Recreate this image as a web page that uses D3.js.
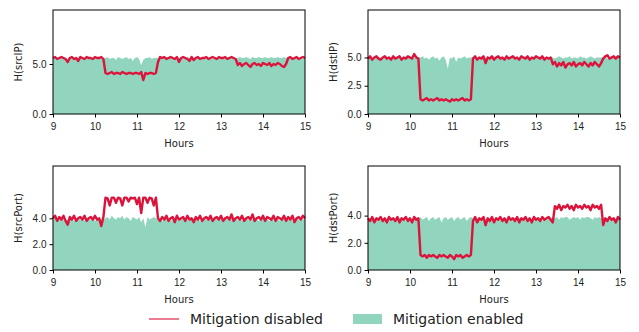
<!DOCTYPE html>
<html>
<head>
<meta charset="utf-8">
<script src="https://cdn.jsdelivr.net/npm/d3@7"></script>
<style>
  body { margin: 0; background: #fff; }
  svg { font-family: "DejaVu Sans", sans-serif; }
</style>
</head>
<body>
<script>
// sampling grid: one value every 0.05 h from 9:00 to 15:00
const hours = d3.range(121).map(i => 9 + i * 0.05);

// H(srcIP)
const srcIP_disabled = [
  5.6,5.7,5.5,5.6,5.7,5.6,5.5,5.2,5.6,5.7, 5.5,5.6,5.3,5.7,5.6,5.5,5.7,5.6,5.6,5.5, 5.7,5.6,5.6,5.7,5.5,
  4.1,4.0,4.1,4.2,4.0,4.1,4.1,4.0,4.2,4.1, 4.0,4.1,4.1,4.0,4.1,4.1,4.0,4.2,3.4,4.1, 4.0,4.1,4.1,4.0,4.1,
  5.2,5.7,5.6,5.7,5.5,5.6,5.7,5.6,5.5,5.7, 5.2,5.6,5.7,5.6,5.5,5.3,5.7,5.4,5.6,5.7,
  5.5,5.6,5.6,5.7,5.5,5.6,5.7,5.6,5.5,5.7, 5.6,5.6,5.7,5.5,5.6,5.7,5.6,5.5,
  4.9,5.1,4.8,5.0,5.1,4.9,4.7,5.0,5.1,4.9, 5.0,4.8,5.1,5.0,4.9,5.1,4.8,5.0,4.9,5.1, 5.0,4.8,4.7,5.0,
  5.6,5.7,5.5,5.6,5.7,5.5,5.6,5.7,5.6
];
const srcIP_enabled = [
  5.6,5.6,5.5,5.6,5.7,5.6,5.6,5.4,5.6,5.6, 5.5,5.6,5.6,5.6,5.5,5.6,5.6,5.6,5.5,5.6, 5.6,5.6,5.6,5.6,5.5,
  5.6,5.7,5.5,5.6,5.6,5.4,5.7,5.6,5.5,5.6, 5.7,5.5,5.6,5.3,5.6,5.7,5.5,4.9,5.4,5.6, 5.6,5.7,5.5,5.6,5.6,
  5.6,5.6,5.5,5.6,5.7,5.6,5.6,5.5,5.6,5.6, 5.6,5.5,5.6,5.6,5.7,5.6,5.5,5.6,5.6,5.6,
  5.6,5.5,5.6,5.7,5.6,5.6,5.5,5.6,5.6,5.6, 5.6,5.5,5.6,5.6,5.7,5.6,5.6,5.5,
  5.6,5.7,5.6,5.6,5.7,5.6,5.5,5.7,5.6,5.6, 5.7,5.6,5.6,5.7,5.6,5.6,5.7,5.6,5.6,5.7, 5.6,5.6,5.7,5.6,
  5.6,5.6,5.5,5.6,5.7,5.6,5.6,5.5,5.6
];

// H(dstIP)
const dstIP_disabled = [
  4.9,5.1,4.8,5.0,5.1,4.9,4.8,5.0,5.1,4.9, 5.0,4.8,5.1,4.9,5.0,5.1,4.8,5.0,4.9,5.1, 5.0,4.9,5.3,5.0,4.9,
  1.3,1.2,1.3,1.4,1.2,1.3,1.2,1.3,1.4,1.2, 1.3,1.2,1.3,1.2,1.1,1.3,1.2,1.3,1.2,1.3, 1.4,1.2,1.3,1.2,1.3,
  4.9,5.1,4.8,5.0,4.9,5.1,4.5,5.0,4.9,5.1, 4.8,5.0,5.1,4.9,5.0,4.8,5.1,4.9,5.0,5.1,
  4.9,5.0,4.8,5.1,5.0,4.9,5.1,4.8,5.0,4.9, 5.1,5.0,4.9,5.1,4.8,5.0,4.9,5.0,
  4.4,4.6,4.2,4.5,4.3,4.6,4.1,4.4,4.5,4.3, 4.6,4.2,4.4,4.5,4.3,4.6,4.4,4.2,4.5,4.3, 4.6,4.4,4.2,4.5,
  4.9,5.1,5.2,4.9,5.0,5.1,4.9,5.1,5.0
];
const dstIP_enabled = [
  5.0,5.0,4.9,5.0,5.1,5.0,5.0,4.9,5.0,5.0, 5.1,5.0,4.9,5.0,5.0,5.0,4.9,5.0,5.1,5.0, 5.0,4.9,5.0,5.0,5.0,
  5.0,5.1,4.9,5.0,4.8,5.0,5.1,4.9,5.0,4.7, 5.0,5.1,4.8,4.0,5.0,4.9,5.1,4.6,5.0,4.9, 5.0,5.1,4.9,5.0,5.0,
  5.0,5.0,4.9,5.0,5.1,5.0,5.0,4.9,5.0,5.0, 5.1,5.0,4.9,5.0,5.0,5.0,4.9,5.0,5.1,5.0,
  5.0,4.9,5.0,5.0,5.0,5.1,5.0,4.9,5.0,5.0, 5.0,4.9,5.0,5.1,5.0,5.0,4.9,5.0,
  5.0,4.9,5.0,5.1,5.0,4.9,5.0,5.0,5.1,4.9, 5.0,5.0,4.9,5.1,5.0,5.0,4.9,5.0,5.1,5.0, 4.9,5.0,5.0,5.0,
  5.0,5.0,4.9,5.0,5.1,5.0,5.0,4.9,5.0
];

// H(srcPort)
const srcPort_disabled = [
  4.0,4.2,3.8,4.1,3.9,4.2,3.8,3.5,4.1,3.9, 4.2,3.8,4.0,4.1,3.9,4.2,3.8,4.0,4.1,3.9, 4.2,3.9,4.0,3.4,4.1,
  5.6,5.55,5.0,5.6,5.6,5.2,5.6,5.55,5.0,5.6, 5.6,5.3,5.6,5.55,5.6,5.1,5.6,4.4,5.6,5.6, 5.2,5.6,5.55,5.0,5.6,
  4.0,3.8,4.1,3.9,4.2,3.8,4.0,4.1,3.7,4.2, 3.9,4.0,4.1,3.8,4.2,3.9,4.0,3.7,4.1,3.9,
  4.2,3.8,4.0,4.1,3.9,4.2,3.8,4.0,4.1,3.9, 4.2,3.8,4.0,4.1,3.9,4.3,3.8,4.0,
  4.1,3.9,4.2,3.8,4.0,4.1,3.9,4.3,3.8,4.0, 4.1,3.9,4.2,3.8,4.1,4.0,3.9,4.2,3.8,4.1, 4.0,3.9,4.2,3.8,
  4.1,3.9,4.2,3.7,4.0,4.1,3.9,4.2,4.0
];
const srcPort_enabled = [
  3.9,4.0,3.8,3.9,4.0,3.9,3.8,3.9,4.0,3.9, 3.8,3.9,4.0,3.9,3.9,3.8,4.0,3.9,3.9,4.0, 3.8,3.9,4.0,3.9,3.9,
  4.0,4.1,3.9,4.2,4.0,3.9,4.1,4.0,4.2,3.9, 4.1,4.0,3.8,4.1,4.0,3.9,4.1,3.7,4.0,3.3, 4.1,3.9,4.0,4.1,4.0,
  3.9,4.0,3.8,3.9,4.0,3.9,3.8,3.9,4.0,3.9, 3.8,3.9,4.0,3.9,3.9,3.8,4.0,3.9,3.9,4.0,
  3.8,3.9,4.0,3.9,3.9,4.0,3.8,3.9,4.0,3.9, 3.9,3.8,4.0,3.9,3.9,4.0,3.8,3.9,
  3.9,4.0,3.8,3.9,4.0,3.9,3.8,3.9,4.0,3.9, 3.8,3.9,4.0,3.9,3.9,3.8,4.0,3.9,3.9,4.0, 3.8,3.9,4.0,3.9,
  3.9,4.0,3.8,3.9,4.0,3.9,3.8,3.9,4.0
];

// H(dstPort)
const dstPort_disabled = [
  3.8,3.6,3.9,3.5,3.8,3.7,3.9,3.6,3.8,3.5, 3.9,3.7,3.8,3.6,3.9,3.5,3.8,3.7,3.9,3.6, 3.8,3.5,3.9,3.7,3.8,
  1.1,1.0,1.1,0.9,1.1,1.0,1.1,1.0,0.9,1.1, 1.0,1.1,1.0,0.9,1.1,1.0,0.8,1.1,1.0,1.1, 0.9,1.0,1.1,1.0,1.1,
  3.6,3.9,3.5,3.8,3.7,3.9,3.3,3.8,3.6,3.9, 3.5,3.8,3.7,3.9,3.6,3.8,3.5,3.9,3.7,3.8,
  3.6,3.9,3.5,3.8,3.7,3.9,3.6,3.8,3.5,3.9, 3.7,3.8,3.6,3.9,3.7,3.8,3.9,3.7,
  3.5,4.7,4.5,4.8,4.4,4.7,4.6,4.8,4.5,4.7, 4.4,4.8,4.6,4.7,4.5,4.8,4.6,4.7,4.4,4.8, 4.6,4.7,4.5,4.8,
  3.3,3.8,3.6,3.9,3.7,3.8,3.5,3.9,3.7
];
const dstPort_enabled = [
  3.8,3.7,3.8,3.8,3.6,3.8,3.7,3.8,3.8,3.7, 3.8,3.6,3.8,3.7,3.8,3.8,3.7,3.8,3.6,3.8, 3.8,3.7,3.8,3.8,3.7,
  3.9,3.7,3.8,3.9,3.6,3.8,3.9,3.7,3.8,3.9, 3.5,3.8,3.9,3.7,3.8,3.9,3.6,3.8,3.9,3.7, 3.8,3.9,3.6,3.8,3.9,
  3.8,3.7,3.8,3.8,3.6,3.8,3.7,3.8,3.8,3.7, 3.8,3.6,3.8,3.7,3.8,3.8,3.7,3.8,3.6,3.8,
  3.8,3.7,3.8,3.8,3.7,3.8,3.6,3.8,3.7,3.8, 3.8,3.7,3.8,3.6,3.8,3.7,3.8,3.8,
  3.9,3.8,3.9,3.7,3.9,3.8,3.9,3.9,3.7,3.8, 3.9,3.8,3.9,3.7,3.9,3.8,3.9,3.9,3.8,3.7, 3.9,3.8,3.9,3.8,
  3.8,3.7,3.8,3.8,3.6,3.8,3.7,3.8,3.8
];

const xTicks = [9, 10, 11, 12, 13, 14, 15];
const panelLabels = ["H(srcIP)", "H(dstIP)", "H(srcPort)", "H(dstPort)"];
const yTicks = [[0, 5], [0, 2.5, 5], [0, 2, 4], [0, 2, 4]];
const yMax = [10.4, 9.2, 8.05, 7.65];
const legendLabels = ["Mitigation disabled", "Mitigation enabled"];

const disabledSeries = [srcIP_disabled, dstIP_disabled, srcPort_disabled, dstPort_disabled];
const enabledSeries = [srcIP_enabled, dstIP_enabled, srcPort_enabled, dstPort_enabled];

const W = 639, H = 332;
const RED = "#dc143c";
const GREEN = "#91d5bf";

// panel placement (left, top) of each axes box
const boxes = [
  { left: 53, top: 10 }, { left: 368, top: 10 },
  { left: 53, top: 166 }, { left: 368, top: 166 }
];
const pw = 252, ph = 104;

const svg = d3.select("body").append("svg")
    .attr("width", W)
    .attr("height", H);

boxes.forEach((b, k) => {
    const g = svg.append("g").attr("transform", `translate(${b.left},${b.top})`);

    const x = d3.scaleLinear().domain([9, 15]).range([0, pw]);
    const y = d3.scaleLinear().domain([0, yMax[k]]).range([ph, 0]);

    const en = hours.map((h, i) => ({ h, v: enabledSeries[k][i] }));
    const dis = hours.map((h, i) => ({ h, v: disabledSeries[k][i] }));

    // 緩和あり: 塗りつぶし
    g.append("path")
        .datum(en)
        .attr("fill", GREEN)
        .attr("d", d3.area()
            .x(d => x(d.h)).y0(y(0)).y1(d => y(d.v)));

    // 緩和なし: 線
    g.append("path")
        .datum(dis)
        .attr("fill", "none")
        .attr("stroke", RED)
        .attr("stroke-width", 2.4)
        .attr("stroke-linejoin", "round")
        .attr("d", d3.line()
            .x(d => x(d.h)).y(d => y(d.v)));

    // axes
    g.append("g")
        .attr("transform", `translate(0,${ph})`)
        .call(d3.axisBottom(x).tickValues(xTicks).tickFormat(d3.format("d"))
            .tickSize(3.5).tickSizeOuter(0))
        .call(a => a.select(".domain").remove())
        .call(a => a.selectAll("text").attr("font-size", 10).attr("fill", "#222").attr("dy", "0.9em"));

    g.append("g")
        .call(d3.axisLeft(y).tickValues(yTicks[k]).tickFormat(d3.format(".1f"))
            .tickSize(3.5).tickSizeOuter(0))
        .call(a => a.select(".domain").remove())
        .call(a => a.selectAll("text").attr("font-size", 10).attr("fill", "#222"));

    // frame
    g.append("rect")
        .attr("width", pw).attr("height", ph)
        .attr("fill", "none").attr("stroke", "#000").attr("stroke-width", 1);

    g.append("text")
        .attr("x", pw / 2).attr("y", ph + 33)
        .attr("text-anchor", "middle")
        .attr("font-size", 10).attr("fill", "#222")
        .text("Hours");

    g.append("text")
        .attr("transform", `translate(${-31},${ph / 2}) rotate(-90)`)
        .attr("text-anchor", "middle")
        .attr("font-size", 10).attr("fill", "#222")
        .text(panelLabels[k]);
});

// legend
const lg = svg.append("g").attr("transform", "translate(0,319)");
lg.append("line")
    .attr("x1", 149).attr("x2", 179).attr("y1", 0).attr("y2", 0)
    .attr("stroke", RED).attr("stroke-opacity", 0.75).attr("stroke-width", 1.5);
lg.append("text")
    .attr("x", 190).attr("y", 0).attr("dy", "0.35em")
    .attr("font-size", 14).attr("fill", "#222")
    .text(legendLabels[0]);
lg.append("rect")
    .attr("x", 353).attr("y", -5).attr("width", 29).attr("height", 10)
    .attr("fill", GREEN);
lg.append("text")
    .attr("x", 393).attr("y", 0).attr("dy", "0.35em")
    .attr("font-size", 14).attr("fill", "#222")
    .text(legendLabels[1]);
</script>
</body>
</html>
